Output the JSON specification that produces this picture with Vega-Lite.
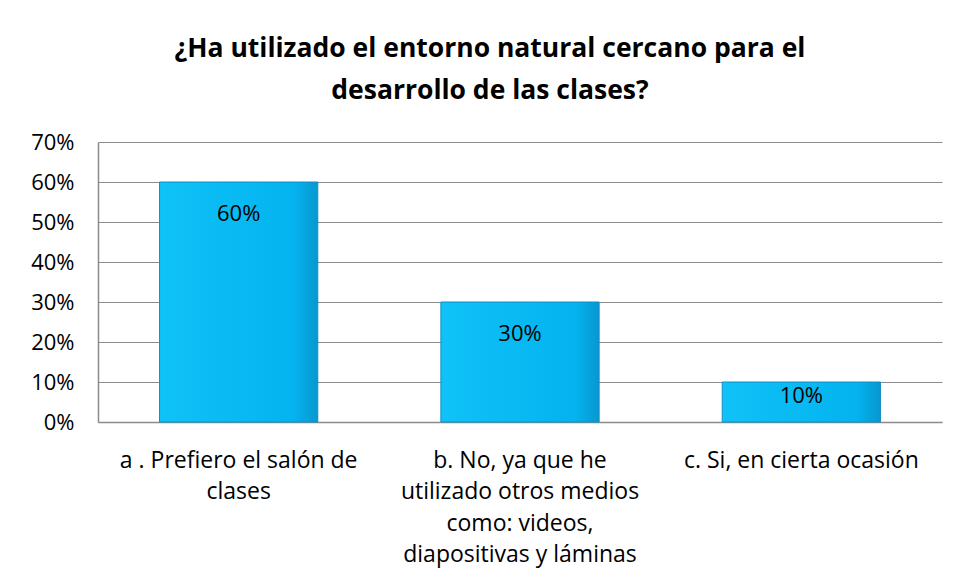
{
  "$schema": "https://vega.github.io/schema/vega-lite/v6.json",
  "width": 844,
  "height": 280,
  "autosize": {"type": "none"},
  "padding": {"left": 98, "top": 142, "right": 16, "bottom": 159},
  "background": "white",
  "title": {
    "text": ["¿Ha utilizado el entorno natural cercano para el", "desarrollo de las clases?"],
    "font": "Open Sans",
    "fontSize": 26.5,
    "fontWeight": "bold",
    "color": "#000000",
    "anchor": "middle",
    "dx": -30,
    "offset": 27,
    "lineHeight": 42
  },
  "data": {
    "values": [
      {"cat": "a . Prefiero el salón de|clases", "v": 0.6},
      {"cat": "b.  No, ya que he|utilizado otros medios|como: videos,|diapositivas y láminas", "v": 0.3},
      {"cat": "c.  Si, en cierta ocasión", "v": 0.1}
    ]
  },
  "encoding": {
    "x": {
      "field": "cat",
      "type": "nominal",
      "sort": null,
      "scale": {"paddingInner": 0.4375, "paddingOuter": 0.21875},
      "axis": {
        "title": null,
        "labelAngle": 0,
        "labelExpr": "split(datum.label, '|')",
        "labelFont": "Open Sans",
        "labelFontSize": 23,
        "labelColor": "#000000",
        "labelLineHeight": 31.5,
        "labelPadding": 27,
        "labelBaseline": "top",
        "labelLimit": 0,
        "labelOverlap": false,
        "ticks": false,
        "domainColor": "#8c8c8c",
        "domainWidth": 1.5
      }
    }
  },
  "layer": [
    {
      "mark": {
        "type": "bar",
        "stroke": "#0f8fc4",
        "strokeWidth": 1,
        "color": {
          "gradient": "linear",
          "x1": 0, "y1": 0, "x2": 1, "y2": 0,
          "stops": [
            {"offset": 0, "color": "#0fc2f7"},
            {"offset": 0.85, "color": "#04b3ef"},
            {"offset": 1, "color": "#0797cf"}
          ]
        }
      },
      "encoding": {
        "y": {
          "field": "v",
          "type": "quantitative",
          "scale": {"domain": [0, 0.7], "nice": false},
          "axis": {
            "title": null,
            "format": ".0%",
            "values": [0, 0.1, 0.2, 0.3, 0.4, 0.5, 0.6, 0.7],
            "labelFont": "Open Sans",
            "labelFontSize": 22,
            "labelColor": "#000000",
            "labelPadding": 24,
            "labelOverlap": false,
            "ticks": false,
            "grid": true,
            "gridColor": "#8c8c8c",
            "gridWidth": 1.2,
            "domainColor": "#8c8c8c",
            "domainWidth": 1.5
          }
        }
      }
    },
    {
      "transform": [
        {"calculate": "max(datum.v - 0.08, datum.v * 0.65)", "as": "lp"}
      ],
      "mark": {
        "type": "text",
        "font": "Open Sans",
        "fontSize": 22,
        "color": "#000000",
        "baseline": "middle"
      },
      "encoding": {
        "y": {"field": "lp", "type": "quantitative", "axis": null},
        "text": {"field": "v", "type": "quantitative", "format": ".0%"}
      }
    }
  ],
  "resolve": {"axis": {"y": "independent"}},
  "config": {
    "view": {"stroke": null}
  }
}
